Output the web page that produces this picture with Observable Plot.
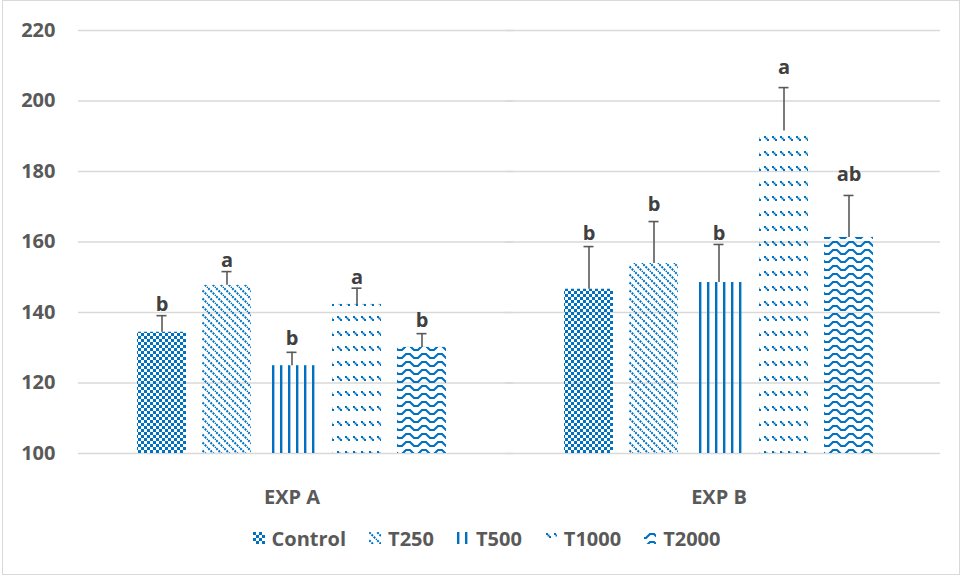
<!DOCTYPE html>
<html>
<head>
<meta charset="utf-8">
<script src="https://cdn.jsdelivr.net/npm/d3@7"></script>
<script src="https://cdn.jsdelivr.net/npm/@observablehq/plot@0.6"></script>
<style>
  html, body { margin: 0; padding: 0; background: #fff; }
  #wrap { position: relative; width: 962px; height: 577px; overflow: hidden; font-family: "Open Sans", sans-serif; }
  #frame { position: absolute; left: 2px; top: 0px; width: 958px; height: 575px; border: 1px solid #d9d9d9; box-sizing: border-box; pointer-events: none; }
  #chart { position: absolute; left: 0; top: 0; }
  #legend { position: absolute; left: 0; top: 527px; width: 962px; height: 22px; display: flex; justify-content: center; align-items: center; padding-left: 11px; box-sizing: border-box; }
  .item { display: flex; align-items: center; margin: 0 11.5px; font-size: 20px; font-weight: 700; color: #595959; }
  .item svg { margin-right: 7px; }
</style>
</head>
<body>
<svg width="0" height="0" style="position:absolute">
  <defs>
    <pattern id="pat-Control" patternUnits="userSpaceOnUse" width="6" height="6">
      <rect x="0" y="0" width="3" height="3" fill="#0070C0"/>
      <rect x="3" y="3" width="3" height="3" fill="#0070C0"/>
    </pattern>
    <pattern id="pat-T250" patternUnits="userSpaceOnUse" width="8" height="8">
      <path d="M-2,-2 L10,10 M-2,6 L2,10 M6,-2 L10,2" stroke="#0070C0" stroke-width="2" stroke-dasharray="2 1.2"/>
    </pattern>
    <pattern id="pat-T500" patternUnits="userSpaceOnUse" width="8" height="8">
      <rect x="0" y="0" width="2.4" height="8" fill="#0070C0"/>
    </pattern>
    <pattern id="pat-T1000" patternUnits="userSpaceOnUse" width="8" height="15">
      <rect x="1" y="1" width="2" height="2" fill="#0070C0"/>
      <rect x="2.5" y="2.5" width="2" height="2" fill="#0070C0"/>
      <rect x="4" y="4" width="2" height="2" fill="#0070C0"/>
    </pattern>
    <pattern id="pat-T2000" patternUnits="userSpaceOnUse" width="16" height="8">
      <path d="M0,6 L2,6 L6,2 L10,2 L14,6 L16,6" fill="none" stroke="#0070C0" stroke-width="2.2"/>
    </pattern>
  </defs>
</svg>
<div id="wrap">
  <div id="chart"></div>
  <div id="legend"></div>
  <div id="frame"></div>
</div>
<script>
// ---- data ----
const groups = ["EXP A", "EXP B"];
const treatments = ["Control", "T250", "T500", "T1000", "T2000"];
const expA = [134.4, 147.7, 124.9, 142.3, 130.1];
const expAErr = [4.7, 3.9, 3.8, 4.6, 3.9];
const lettersA = ["b", "a", "b", "a", "b"];
const letterLevelA = [140.0, 152.2, 130.1, 147.4, 135.2];
const expB = [146.6, 153.9, 148.5, 191.5, 161.3];
const expBErr = [12.1, 11.9, 10.8, 12.3, 11.9];
const lettersB = ["b", "b", "b", "a", "ab"];
const letterLevelB = [160.1, 168.1, 160.1, 207.2, 176.6];
const yTicks = [100, 120, 140, 160, 180, 200, 220];
const yMin = 100, yMax = 220;

const rows = [];
treatments.forEach((t, i) => {
  rows.push({group: groups[0], treatment: t, value: expA[i], err: expAErr[i], letter: lettersA[i], letterY: letterLevelA[i]});
});
treatments.forEach((t, i) => {
  rows.push({group: groups[1], treatment: t, value: expB[i], err: expBErr[i], letter: lettersB[i], letterY: letterLevelB[i]});
});

const textColor = "#595959";

const chart = Plot.plot({
  width: 962,
  height: 510,
  marginTop: 30,
  marginBottom: 57,
  marginLeft: 78,
  marginRight: 30,
  style: {fontFamily: "Open Sans, sans-serif", background: "transparent", overflow: "visible"},
  fx: {domain: groups, padding: 0, label: null},
  x: {domain: treatments, paddingInner: 0.24, paddingOuter: 0.87, axis: null},
  y: {domain: [yMin, yMax], ticks: yTicks, label: null},
  color: {type: "identity"},
  marks: [
    Plot.gridY(yTicks, {stroke: "#d9d9d9", strokeOpacity: 1, strokeWidth: 1.3, facetAnchor: null}),
    Plot.axisY(yTicks, {tickSize: 0, tickPadding: 23, fontSize: 20, fontWeight: 700, fill: textColor, label: null}),
    Plot.axisFx({anchor: "bottom", tickSize: 0, tickPadding: 36, fontSize: 20, fontWeight: 700, fill: textColor, label: null}),
    Plot.barY(rows, {fx: "group", x: "treatment", y1: () => yMin, y2: "value", fill: d => `url(#pat-${d.treatment})`}),
    Plot.ruleX(rows, {fx: "group", x: "treatment", y1: "value", y2: d => d.value + d.err, stroke: textColor, strokeWidth: 1.6}),
    Plot.tickY(rows, {fx: "group", x: "treatment", y: d => d.value + d.err, stroke: textColor, strokeWidth: 1.6, insetLeft: 19.5, insetRight: 19.5}),
    Plot.text(rows, {fx: "group", x: "treatment", y: "letterY", text: "letter", lineAnchor: "bottom", dy: -2, fontSize: 20, fontWeight: 700, fill: "#404040"})
  ]
});
document.getElementById("chart").appendChild(chart);

// extend gridlines across the full plot width (reference gridlines run to x≈940)
d3.select(chart).selectAll("g[aria-label='y-grid'] line").attr("x2", function() { return +this.getAttribute("x2") + 8; });

// legend
const legend = document.getElementById("legend");
treatments.forEach(t => {
  const item = document.createElement("div");
  item.className = "item";
  item.innerHTML = `<svg width="12" height="12"><rect width="12" height="12" fill="url(#pat-${t})"/></svg><span>${t}</span>`;
  legend.appendChild(item);
});
</script>
</body>
</html>
